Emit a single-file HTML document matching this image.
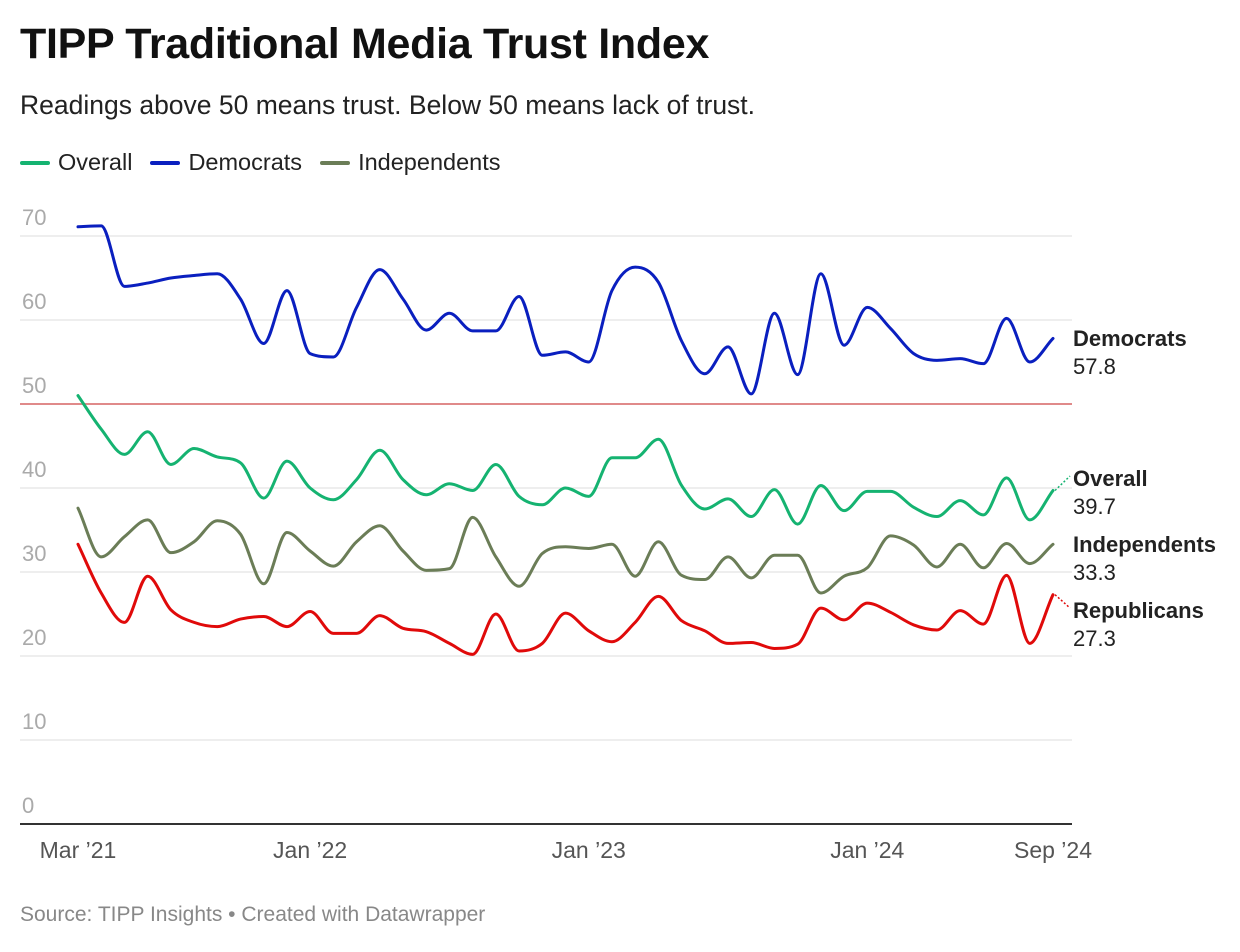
<!DOCTYPE html>
<html><head><meta charset="utf-8"><style>
body{margin:0;background:#fff;font-family:"Liberation Sans",Arial,sans-serif;}
#wrap{position:relative;width:1240px;height:952px;overflow:hidden;}
h1{position:absolute;left:20px;top:20px;margin:0;font-size:43px;font-weight:bold;color:#111;letter-spacing:-0.3px}
.sub{position:absolute;left:20px;top:90px;font-size:26.5px;color:#222}
.legend{position:absolute;left:20px;top:149px;font-size:23.5px;color:#222;display:flex;gap:18px}
.legend span{display:flex;align-items:center}
.legend i{display:inline-block;width:30px;height:4px;margin-right:8px;border-radius:2px}
.src{position:absolute;left:20px;top:903px;font-size:21px;color:#888}
</style></head><body>
<div id="wrap">
<h1>TIPP Traditional Media Trust Index</h1>
<div class="sub">Readings above 50 means trust. Below 50 means lack of trust.</div>
<div class="legend">
<span><i style="background:#15b371"></i>Overall</span>
<span><i style="background:#0a1fbf"></i>Democrats</span>
<span><i style="background:#6b7d57"></i>Independents</span>
</div>
<svg id="chart" width="1240" height="952" style="position:absolute;left:0;top:0"></svg>
<div class="src">Source: TIPP Insights • Created with Datawrapper</div>
</div>
<script>
const yTicks=[0,10,20,30,40,50,60,70];
const xTickLabels=["Mar ’21","Jan ’22","Jan ’23","Jan ’24","Sep ’24"];
const xTickIdx=[0,10,22,34,42];
const seriesNames=["Democrats","Overall","Independents","Republicans"];
const democrats=[71.1,71.2,64,64.4,65,65.3,65.5,62.5,57.2,63.5,56,55.6,61.5,66,62.5,58.8,60.8,58.7,58.7,62.8,55.8,56.2,55,63.5,66.3,64.5,57.5,53.6,56.8,51.2,60.8,53.5,65.5,57,61.5,59,56,55.2,55.4,54.8,60.2,55,57.8];
const overall=[51,47,44,46.7,42.8,44.7,43.7,43,38.8,43.2,40,38.6,41,44.5,41,39.2,40.5,39.7,42.8,39,38,40,39,43.6,43.6,45.8,40.3,37.5,38.7,36.6,39.8,35.7,40.3,37.3,39.6,39.6,37.7,36.6,38.5,36.8,41.2,36.2,39.7];
const independents=[37.6,31.8,34.2,36.2,32.3,33.6,36.1,34.5,28.6,34.7,32.5,30.7,33.6,35.5,32.5,30.2,30.4,36.5,31.8,28.3,32.2,33,32.8,33.3,29.5,33.6,29.6,29.1,31.8,29.3,32,32,27.5,29.5,30.5,34.3,33.2,30.6,33.3,30.5,33.4,31,33.3];
const republicans=[33.3,27.5,24,29.5,25.5,24,23.5,24.4,24.7,23.5,25.3,22.7,22.7,24.8,23.3,22.9,21.5,20.2,25,20.6,21.5,25.1,23,21.7,24,27.1,24.2,23,21.5,21.6,20.9,21.4,25.7,24.3,26.3,25.2,23.7,23.1,25.4,23.8,29.6,21.5,27.3];

const svg=document.getElementById('chart');
const NS='http://www.w3.org/2000/svg';
const X=i=>78+i*(1053-78)/42;
const Y=v=>824-v*8.4;
function mk(t,a){const e=document.createElementNS(NS,t);for(const k in a)e.setAttribute(k,a[k]);svg.appendChild(e);return e;}
yTicks.forEach(v=>{
 const l=mk('line',{x1:20,x2:1072,y1:Y(v),y2:Y(v),stroke:v==0?'#333':(v==50?'#e08a8a':'#ddd'),'stroke-width':v==0?2:(v==50?2:1)});
 
 
 const t=mk('text',{x:22,y:Y(v)-11,'font-size':22,fill:'#aaa','font-family':'Liberation Sans, sans-serif'});
 t.textContent=v;
 
 
});
xTickIdx.forEach((idx,k)=>{
 const t=mk('text',{x:X(idx),y:858,'font-size':23,fill:'#555','text-anchor':'middle','font-family':'Liberation Sans, sans-serif'});
 t.textContent=xTickLabels[k];
 
 
});
function monoPath(vals){
 const n=vals.length,xs=vals.map((_,i)=>X(i)),ys=vals.map(Y);
 const d=[],m=[];
 for(let i=0;i<n-1;i++)d.push((ys[i+1]-ys[i])/(xs[i+1]-xs[i]));
 m[0]=d[0];m[n-1]=d[n-2];
 for(let i=1;i<n-1;i++){m[i]=(d[i-1]*d[i]<=0)?0:(d[i-1]+d[i])/2;}
 for(let i=0;i<n-1;i++){if(d[i]==0){m[i]=0;m[i+1]=0;continue;}const a=m[i]/d[i],b=m[i+1]/d[i],s=a*a+b*b;if(s>9){const t=3/Math.sqrt(s);m[i]=t*a*d[i];m[i+1]=t*b*d[i];}}
 let p='M'+xs[0]+','+ys[0];
 for(let i=0;i<n-1;i++){const h=(xs[i+1]-xs[i])/3;p+=`C${xs[i]+h},${ys[i]+m[i]*h} ${xs[i+1]-h},${ys[i+1]-m[i+1]*h} ${xs[i+1]},${ys[i+1]}`;}
 return p;
}
const all=[democrats,overall,independents,republicans];
const colors=['#0a1fbf','#15b371','#6b7d57','#e00a0a'];
const labelY=[338,478,544,610];
all.forEach((vals,k)=>{
 const p=mk('path',{d:monoPath(vals),fill:'none',stroke:colors[k],'stroke-width':3,'stroke-linejoin':'round','stroke-linecap':'round'});
 
 
 const last=vals[vals.length-1];
 if(Math.abs(Y(last)-labelY[k]-4)>8){
  const c=mk('line',{x1:X(42)+2,y1:Y(last),x2:1070,y2:labelY[k]-2,stroke:colors[k],'stroke-width':1.5,'stroke-dasharray':'2,2'});
  
  
 }
 const t1=mk('text',{x:1073,y:labelY[k]+8,'font-size':22,'font-weight':'bold',fill:'#222','font-family':'Liberation Sans, sans-serif'});
 t1.textContent=seriesNames[k];
 
 
 const t2=mk('text',{x:1073,y:labelY[k]+36,'font-size':22,fill:'#222','font-family':'Liberation Sans, sans-serif'});
 t2.textContent=last.toFixed(1);
 
 
});
</script>
</body></html>
